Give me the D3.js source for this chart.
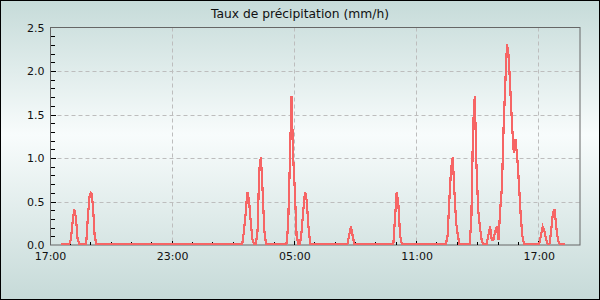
<!DOCTYPE html>
<html><head><meta charset="utf-8">
<script src="https://cdn.jsdelivr.net/npm/d3@7"></script>
<style>
html,body{margin:0;padding:0;background:#fff;}
svg{display:block;}
</style></head>
<body>
<svg id="c" width="600" height="300"></svg>
<script>
// Sample times (HH:MM, day rolls over when time decreases) and rates (mm/h)
const sampleTimes = [
 "17:30","17:55","18:00","18:05","18:10","18:15","18:20","18:25",
 "18:45","18:50","18:55","19:00","19:05","19:10","19:15",
 "02:25","02:30","02:35","02:40","02:45","02:50","02:55","03:00",
 "03:05","03:10","03:15","03:20","03:25","03:30","03:35",
 "04:35","04:40","04:45","04:50","04:55","05:00","05:05","05:10",
 "05:15","05:20","05:25","05:30","05:35","05:40","05:45",
 "07:35","07:40","07:45","07:50","07:55",
 "09:50","09:55","10:00","10:05","10:10","10:15",
 "12:25","12:30","12:35","12:40","12:45","12:50","12:55","13:00","13:05",
 "13:35","13:40","13:45","13:50","13:55","14:00","14:05","14:10","14:15",
 "14:25","14:30","14:35","14:40","14:45","14:50","14:55","15:00",
 "15:05","15:10","15:15","15:20","15:25","15:30","15:35","15:40",
 "15:45","15:50","15:55","16:00","16:05","16:10","16:15",
 "17:00","17:05","17:10","17:15","17:20","17:25","17:30",
 "17:35","17:40","17:45","17:50","17:55","18:00","18:15"
];
const rates = [
 0,0,0.05,0.25,0.4,0.3,0.05,0,
 0,0.3,0.55,0.6,0.45,0.1,0,
 0,0.15,0.35,0.6,0.5,0.25,0.05,0,
 0,0.15,0.85,1.0,0.6,0.15,0,
 0,0.2,0.9,1.7,1.0,0.6,0.1,0,
 0,0.15,0.4,0.6,0.5,0.2,0,
 0,0.1,0.2,0.1,0,
 0,0.3,0.6,0.45,0.1,0,
 0,0.1,0.5,0.85,1.0,0.6,0.25,0.1,0,
 0,0.3,1.35,1.7,0.9,0.4,0.2,0.05,0,
 0,0.1,0.2,0.05,0.05,0.15,0.2,0.05,
 0.4,0.65,1.35,1.85,2.3,2.15,1.75,1.35,
 1.05,1.2,1.0,0.7,0.35,0.1,0,
 0,0.1,0.2,0.15,0.05,0,0,
 0.15,0.35,0.4,0.2,0.05,0,0
];
const xTickLabels = ["17:00","23:00","05:00","11:00","17:00"];
const yTickLabels = ["0.0","0.5","1.0","1.5","2.0","2.5"];
const title = "Taux de précipitation (mm/h)";

const W = 600, H = 300;
const m = {left: 50.5, right: 20, top: 27.5, bottom: 55};
const svg = d3.select("#c");

// background gradient
const defs = svg.append("defs");
const g1 = defs.append("linearGradient").attr("id","bg").attr("x1",0).attr("y1",0).attr("x2",0).attr("y2",1);
g1.append("stop").attr("offset","0%").attr("stop-color","#c6dbd9");
g1.append("stop").attr("offset","45%").attr("stop-color","#f8fcfc");
g1.append("stop").attr("offset","100%").attr("stop-color","#c6dad8");
svg.append("rect").attr("x",0.5).attr("y",0.5).attr("width",W-1).attr("height",H-1)
  .attr("fill","url(#bg)").attr("stroke","#000").attr("stroke-width",1);

// times -> Date
let day = 0, prev = -1;
const data = sampleTimes.map((s,i)=>{
  const [h,mi] = s.split(":").map(Number);
  const mins = h*60+mi;
  if (prev >= 0 && mins < prev) day++;
  prev = mins;
  return {t: new Date(2024,0,1+day,h,mi), v: rates[i]};
});

const x0 = new Date(2024,0,1,17,0), x1 = new Date(2024,0,2,19,0);
const x = d3.scaleTime().domain([x0,x1]).range([m.left, W - m.right]);
const y = d3.scaleLinear().domain([0, 2.5]).range([H - m.bottom, m.top]);
const px = x.range(), py = y.range();

// grid
const xMajor = xTickLabels.map((l,i)=> new Date(2024,0,1, 17 + 6*i, 0));
const yMajor = yTickLabels.map(Number);
const grid = svg.append("g").attr("stroke","#bdbdbd").attr("stroke-dasharray","4,3").attr("stroke-width",1);
xMajor.slice(1).forEach(d=>{
  const xx = Math.round(x(d))+0.5 - 1;
  grid.append("line").attr("x1",xx).attr("x2",xx).attr("y1",py[1]).attr("y2",py[0]);
});
yMajor.slice(1,-1).forEach(v=>{
  const yy = Math.round(y(v))+0.5;
  grid.append("line").attr("x1",px[0]).attr("x2",px[1]).attr("y1",yy).attr("y2",yy);
});

// plot border
svg.append("rect").attr("x",px[0]).attr("y",py[1]).attr("width",px[1]-px[0]).attr("height",py[0]-py[1])
  .attr("fill","none").attr("stroke","#666").attr("stroke-width",1);

// y ticks (inward)
const yt = svg.append("g").attr("stroke","#000").attr("stroke-width",1).attr("shape-rendering","crispEdges");
d3.range(0, 26).forEach(i=>{
  const v = i/10;
  const major = i % 5 === 0;
  if (i===0 || i===25) return;
  const yy = Math.round(y(v))+0.5;
  yt.append("line").attr("x1",px[0]).attr("x2",px[0]+(major?5:4)).attr("y1",yy).attr("y2",yy);
});
// x ticks (inward, hourly)
d3.timeHour.range(new Date(2024,0,1,18,0), x1).forEach(d=>{
  const major = (d.getHours() - 17 + 24) % 6 === 0;
  const xx = Math.round(x(d))+0.5 - 1;
  yt.append("line").attr("x1",xx).attr("x2",xx).attr("y1",py[0]).attr("y2",py[0]-(major?4:3));
});

// line
const line = d3.line().x(d=>x(d.t)).y(d=>y(d.v)-1);
svg.append("path").datum(data).attr("d",line).attr("fill","none")
  .attr("stroke","#f66565").attr("stroke-width",2.2).attr("stroke-linejoin","miter")
  .attr("shape-rendering","crispEdges");

// labels
const font = "DejaVu Sans";
svg.append("text").attr("x",W/2).attr("y",18).attr("text-anchor","middle")
  .attr("font-family",font).attr("font-size",12.3).attr("fill","#111").text(title);
yMajor.forEach((v,i)=>{
  svg.append("text").attr("x",px[0]-6).attr("y",y(v)+4).attr("text-anchor","end")
    .attr("font-family",font).attr("font-size",11).attr("fill","#111").text(yTickLabels[i]);
});
xMajor.forEach((d,i)=>{
  svg.append("text").attr("x",x(d)).attr("y",260).attr("text-anchor","middle")
    .attr("font-family",font).attr("font-size",11).attr("fill","#111").text(xTickLabels[i]);
});
</script>
</body></html>
